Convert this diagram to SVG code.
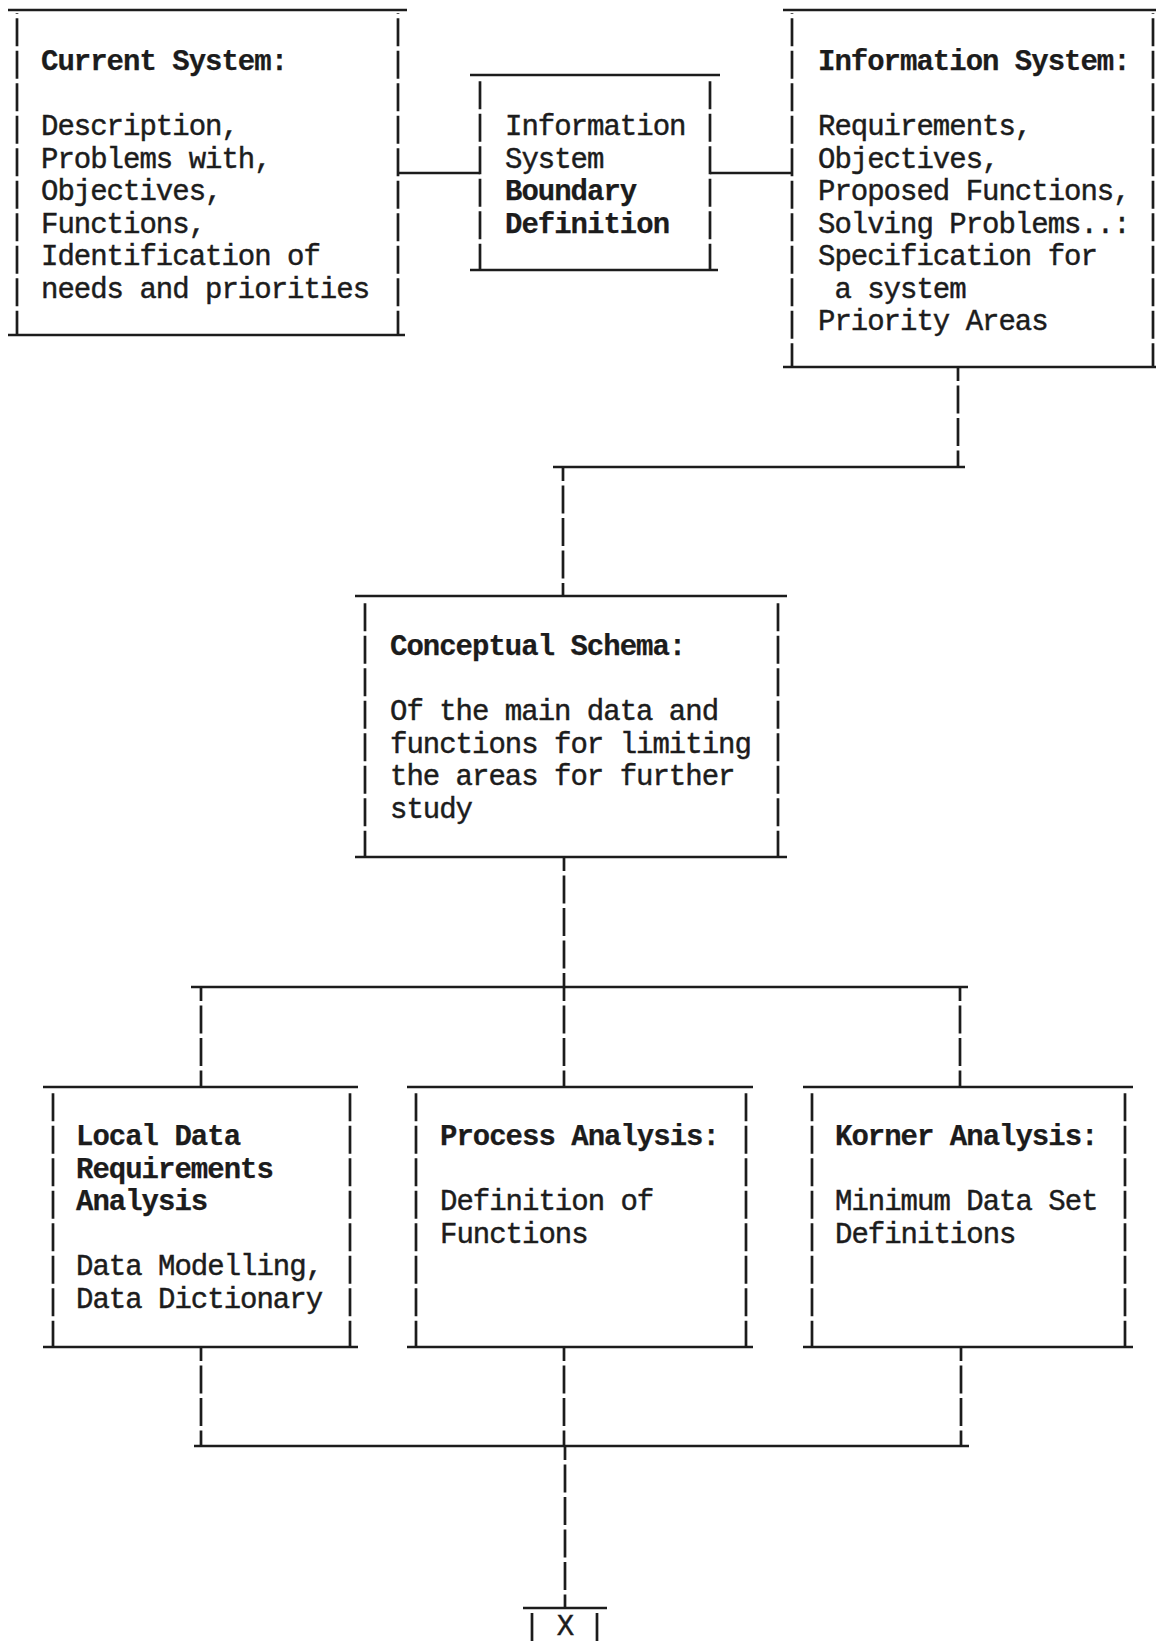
<svg xmlns="http://www.w3.org/2000/svg" width="1156" height="1641" viewBox="0 0 1156 1641">
  <style>
    .ln { stroke: #1c1c1c; stroke-width: 2.7; fill: none; }
    .dash { stroke-dasharray: 28 4.5; }
    .cdash { stroke-dasharray: 28 4.5; stroke-dashoffset: 14; }
    .t { font-family: "Liberation Mono", "Courier New", monospace; font-size: 29px; letter-spacing: -1px; fill: #1c1c1c; stroke: #1c1c1c; stroke-width: 0.45; }
    .b { font-weight: bold; stroke-width: 0.25; }
  </style>
  <rect x="0" y="0" width="1156" height="1641" fill="#ffffff"/>

  <!-- connectors (typed rules and bars) -->
  <g id="connectors">
    <!-- top row links -->
    <line class="ln" x1="398" y1="173" x2="480" y2="173"/>
    <line class="ln" x1="710" y1="173" x2="792" y2="173"/>
    <!-- information system down to conceptual schema -->
    <line class="ln cdash" x1="958" y1="367" x2="958" y2="467"/>
    <line class="ln" x1="553" y1="467" x2="965" y2="467"/>
    <line class="ln cdash" x1="563" y1="467" x2="563" y2="596"/>
    <!-- conceptual schema fan-out -->
    <line class="ln cdash" x1="564" y1="857" x2="564" y2="987"/>
    <line class="ln" x1="191" y1="987" x2="968" y2="987"/>
    <line class="ln cdash" x1="201" y1="987" x2="201" y2="1087"/>
    <line class="ln cdash" x1="564" y1="987" x2="564" y2="1087"/>
    <line class="ln cdash" x1="960" y1="987" x2="960" y2="1087"/>
    <!-- fan-in to X -->
    <line class="ln cdash" x1="201" y1="1347" x2="201" y2="1446"/>
    <line class="ln cdash" x1="564" y1="1347" x2="564" y2="1446"/>
    <line class="ln cdash" x1="961" y1="1347" x2="961" y2="1446"/>
    <line class="ln" x1="194" y1="1446" x2="969" y2="1446"/>
    <line class="ln cdash" x1="565" y1="1446" x2="565" y2="1608"/>
  </g>

  <!-- Current System -->
  <g id="current-system">
    <line class="ln" x1="8" y1="10" x2="407" y2="10"/>
    <line class="ln" x1="8" y1="335" x2="405" y2="335"/>
    <line class="ln dash" x1="17" y1="13" x2="17" y2="335" stroke-dashoffset="27.25"/>
    <line class="ln dash" x1="398" y1="13" x2="398" y2="335" stroke-dashoffset="27.25"/>
    <text class="t b" x="41" y="70">Current System:</text>
    <text class="t" x="41" y="135">Description,</text>
    <text class="t" x="41" y="167.5">Problems with,</text>
    <text class="t" x="41" y="200">Objectives,</text>
    <text class="t" x="41" y="232.5">Functions,</text>
    <text class="t" x="41" y="265">Identification of</text>
    <text class="t" x="41" y="297.5">needs and priorities</text>
  </g>

  <!-- Information System Boundary Definition -->
  <g id="boundary-definition">
    <line class="ln" x1="470" y1="75" x2="720" y2="75"/>
    <line class="ln" x1="470" y1="270" x2="718" y2="270"/>
    <line class="ln dash" x1="480" y1="78" x2="480" y2="270" stroke-dashoffset="29.25"/>
    <line class="ln dash" x1="710" y1="78" x2="710" y2="270" stroke-dashoffset="29.25"/>
    <text class="t" x="505" y="135">Information</text>
    <text class="t" x="505" y="167.5">System</text>
    <text class="t b" x="505" y="200">Boundary</text>
    <text class="t b" x="505" y="232.5">Definition</text>
  </g>

  <!-- Information System -->
  <g id="information-system">
    <line class="ln" x1="783" y1="10" x2="1156" y2="10"/>
    <line class="ln" x1="783" y1="367" x2="1156" y2="367"/>
    <line class="ln dash" x1="792" y1="13" x2="792" y2="367" stroke-dashoffset="27.25"/>
    <line class="ln dash" x1="1153" y1="13" x2="1153" y2="367" stroke-dashoffset="27.25"/>
    <text class="t b" x="818" y="70">Information System:</text>
    <text class="t" x="818" y="135">Requirements,</text>
    <text class="t" x="818" y="167.5">Objectives,</text>
    <text class="t" x="818" y="200">Proposed Functions,</text>
    <text class="t" x="818" y="232.5">Solving Problems..:</text>
    <text class="t" x="818" y="265">Specification for</text>
    <text class="t" x="818" y="297.5" xml:space="preserve"> a system</text>
    <text class="t" x="818" y="330">Priority Areas</text>
  </g>

  <!-- Conceptual Schema -->
  <g id="conceptual-schema">
    <line class="ln" x1="355" y1="596" x2="787" y2="596"/>
    <line class="ln" x1="355" y1="857" x2="787" y2="857"/>
    <line class="ln dash" x1="365" y1="599" x2="365" y2="857" stroke-dashoffset="28.25"/>
    <line class="ln dash" x1="778" y1="599" x2="778" y2="857" stroke-dashoffset="28.25"/>
    <text class="t b" x="390" y="655">Conceptual Schema:</text>
    <text class="t" x="390" y="720">Of the main data and</text>
    <text class="t" x="390" y="752.5">functions for limiting</text>
    <text class="t" x="390" y="785">the areas for further</text>
    <text class="t" x="390" y="817.5">study</text>
  </g>

  <!-- Local Data Requirements Analysis -->
  <g id="local-data">
    <line class="ln" x1="43" y1="1087" x2="358" y2="1087"/>
    <line class="ln" x1="43" y1="1347" x2="358" y2="1347"/>
    <line class="ln dash" x1="53" y1="1090" x2="53" y2="1347" stroke-dashoffset="29.25"/>
    <line class="ln dash" x1="350" y1="1090" x2="350" y2="1347" stroke-dashoffset="29.25"/>
    <text class="t b" x="76" y="1145">Local Data</text>
    <text class="t b" x="76" y="1177.5">Requirements</text>
    <text class="t b" x="76" y="1210">Analysis</text>
    <text class="t" x="76" y="1275">Data Modelling,</text>
    <text class="t" x="76" y="1307.5">Data Dictionary</text>
  </g>

  <!-- Process Analysis -->
  <g id="process-analysis">
    <line class="ln" x1="407" y1="1087" x2="753" y2="1087"/>
    <line class="ln" x1="407" y1="1347" x2="753" y2="1347"/>
    <line class="ln dash" x1="416" y1="1090" x2="416" y2="1347" stroke-dashoffset="29.25"/>
    <line class="ln dash" x1="746" y1="1090" x2="746" y2="1347" stroke-dashoffset="29.25"/>
    <text class="t b" x="440" y="1145">Process Analysis:</text>
    <text class="t" x="440" y="1210">Definition of</text>
    <text class="t" x="440" y="1242.5">Functions</text>
  </g>

  <!-- Korner Analysis -->
  <g id="korner-analysis">
    <line class="ln" x1="803" y1="1087" x2="1133" y2="1087"/>
    <line class="ln" x1="803" y1="1347" x2="1133" y2="1347"/>
    <line class="ln dash" x1="812" y1="1090" x2="812" y2="1347" stroke-dashoffset="29.25"/>
    <line class="ln dash" x1="1125" y1="1090" x2="1125" y2="1347" stroke-dashoffset="29.25"/>
    <text class="t b" x="835" y="1145">Korner Analysis:</text>
    <text class="t" x="835" y="1210">Minimum Data Set</text>
    <text class="t" x="835" y="1242.5">Definitions</text>
  </g>

  <!-- X terminal box (runs off the page edge) -->
  <g id="x-box">
    <line class="ln" x1="523" y1="1608" x2="607" y2="1608"/>
    <line class="ln" x1="532" y1="1613" x2="532" y2="1641"/>
    <line class="ln" x1="597" y1="1613" x2="597" y2="1641"/>
    <text class="t" x="565" y="1635" text-anchor="middle">X</text>
  </g>
</svg>
